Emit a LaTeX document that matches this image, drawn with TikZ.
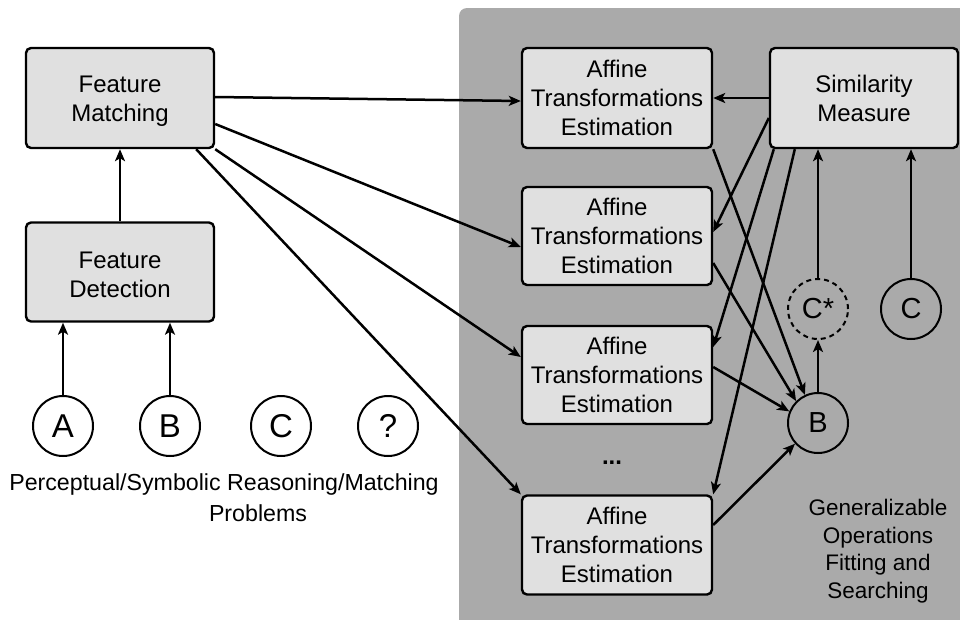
\documentclass[tikz,border=0pt]{standalone}
\usepackage{fontspec}
\setmainfont{Liberation Sans}
\usetikzlibrary{arrows.meta,calc}
\definecolor{panelgray}{RGB}{170,170,170}
\definecolor{boxfill}{RGB}{224,224,224}
\tikzset{
  box/.style={draw=black, line width=2.4pt, rounded corners=5pt, fill=boxfill,
    minimum width=188pt, minimum height=100pt, align=center, inner sep=0pt,
    font=\fontsize{24}{29}\selectfont},
  circ/.style={draw=black, line width=2pt, circle, minimum size=60pt, inner sep=0pt,
    font=\fontsize{29}{32}\selectfont},
  bigcirc/.style={circ, font=\fontsize{33}{36}\selectfont},
  dcirc/.style={circ, dashed, dash pattern=on 5pt off 4pt},
  arr/.style={line width=2.5pt, -{Stealth[length=12pt,width=10pt,inset=3pt]}},
  lbl/.style={align=center, inner sep=0pt, font=\fontsize{22.5}{27.5}\selectfont}
}
\newcommand{\lowertext}[1]{\raisebox{-3pt}[\height][\depth]{\parbox{150pt}{\centering #1}}}
\begin{document}
\begin{tikzpicture}[x=1pt,y=-1pt]
\useasboundingbox (0,0) rectangle (960,619);
\fill[white] (0,0) rectangle (960,619);
\begin{scope}
\clip (0,0) rectangle (960,619);
\fill[panelgray, rounded corners=8pt] (459,640) -- (459,8) -- (990,8) -- (990,640) -- cycle;
\end{scope}

% left side
\node[box] (FM) at (120,98) {\lowertext{Feature\\Matching}};
\node[box, minimum height=99pt] (FD) at (120,272) {\lowertext{Feature\\Detection}};
\node[bigcirc] (cA) at (63,426) {A};
\node[bigcirc] (cB) at (170,426) {B};
\node[bigcirc] (cC) at (281,426) {C};
\node[bigcirc] (cQ) at (388,426) {?};
\node[lbl, font=\fontsize{23.2}{28}\selectfont] (t1) at (224,484) {Perceptual/Symbolic Reasoning/Matching};
\node[lbl, font=\fontsize{23.2}{28}\selectfont] (t2) at (258,513) {Problems};

% right side
\node[box, minimum width=190pt] (A1) at (617,98) {Affine\\Transformations\\Estimation};
\node[box, minimum width=190pt, minimum height=98pt] (A2) at (617,236) {Affine\\Transformations\\Estimation};
\node[box, minimum width=190pt, minimum height=98pt] (A3) at (617,375) {Affine\\Transformations\\Estimation};
\node[box, minimum width=190pt, minimum height=99pt] (A4) at (617,545) {Affine\\Transformations\\Estimation};
\node[font=\fontsize{24}{29}\selectfont\bfseries, inner sep=0pt] (dots) at (612,463) {...};
\node[box] (SM) at (864,98) {Similarity\\Measure};
\node[dcirc] (Cs) at (818,309) {C*};
\node[circ] (Cr) at (911,309) {C};
\node[circ] (Bn) at (818,423) {B};
\node[lbl] (t3) at (878,551) {Generalizable\\Operations\\Fitting and\\Searching};

% left arrows
\draw[arr] (FD.north) -- (FM.south);
\draw[arr] (cA.north) -- (cA.north |- FD.south);
\draw[arr] (cB.north) -- (cB.north |- FD.south);

% FM to affines
\draw[arr] ($(FM.east)+(0,-1)$) -- ($(A1.west)+(0,3)$);
\draw[arr] ($(FM.east)+(0,26)$) -- ($(A2.west)+(0,11)$);
\draw[arr] (FM.south east) -- ($(A3.west)+(0,-18)$);
\draw[arr] ($(FM.south east)+(-19,0)$) -- (A4.north west);

% similarity to affines
\draw[arr] (SM.west) -- (A1.east);
\draw[arr] ($(SM.west)+(0,20)$) -- ($(A2.east)+(0,-4)$);
\draw[arr] ($(SM.south west)+(5,0)$) -- ($(A3.east)+(0,-28)$);
\draw[arr] ($(SM.south west)+(26,0)$) -- (A4.north east);

% affines to B
\draw[arr] (A1.south east) -- (Bn.115);
\draw[arr] ($(A2.east)+(0,27)$) -- (Bn.135);
\draw[arr] ($(A3.east)+(0,-8)$) -- (Bn.158);
\draw[arr] ($(A4.east)+(0,-20)$) -- (Bn.222);

% B to C*, C*/C to similarity
\draw[arr] (Bn.north) -- (Cs.south);
\draw[arr] (Cs.north) -- (Cs.north |- SM.south);
\draw[arr] (Cr.north) -- (Cr.north |- SM.south);
\end{tikzpicture}
\end{document}
